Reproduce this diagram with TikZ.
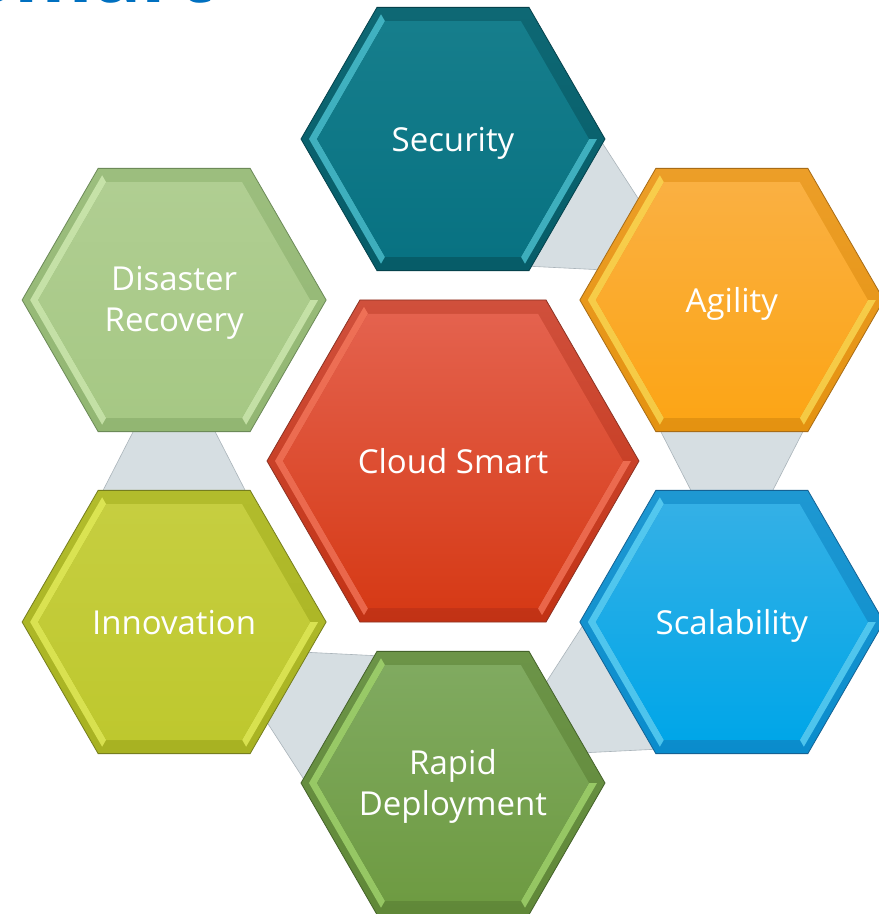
\documentclass[tikz,border=0pt]{standalone}
\usepackage{fontspec}
\setmainfont{Open Sans}
\usetikzlibrary{calc}

\definecolor{titleblue}{RGB}{0,112,192}
\definecolor{connfill}{RGB}{214,222,226}
\definecolor{connline}{RGB}{170,180,186}
% centre
\definecolor{cldtop}{RGB}{228,98,78}
\definecolor{cldbot}{RGB}{214,58,22}
\definecolor{cldrimt}{RGB}{208,80,60}
\definecolor{cldrimb}{RGB}{194,50,20}
\definecolor{cldhi}{RGB}{255,130,102}
\definecolor{cldline}{RGB}{140,50,35}
% security
\definecolor{sectop}{RGB}{22,126,140}
\definecolor{secbot}{RGB}{8,114,130}
\definecolor{secrimt}{RGB}{14,104,116}
\definecolor{secrimb}{RGB}{6,92,104}
\definecolor{sechi}{RGB}{92,218,234}
\definecolor{secline}{RGB}{5,66,76}
% agility
\definecolor{agitop}{RGB}{250,176,66}
\definecolor{agibot}{RGB}{252,165,22}
\definecolor{agirimt}{RGB}{236,158,40}
\definecolor{agirimb}{RGB}{228,146,16}
\definecolor{agihi}{RGB}{255,232,96}
\definecolor{agiline}{RGB}{168,108,22}
% scalability
\definecolor{scatop}{RGB}{52,176,230}
\definecolor{scabot}{RGB}{0,166,232}
\definecolor{scarimt}{RGB}{30,152,210}
\definecolor{scarimb}{RGB}{10,140,204}
\definecolor{scahi}{RGB}{112,226,255}
\definecolor{scaline}{RGB}{20,98,148}
% rapid deployment
\definecolor{raptop}{RGB}{128,170,96}
\definecolor{rapbot}{RGB}{110,155,66}
\definecolor{raprimt}{RGB}{108,148,72}
\definecolor{raprimb}{RGB}{96,136,56}
\definecolor{raphi}{RGB}{178,232,122}
\definecolor{rapline}{RGB}{68,98,42}
% innovation
\definecolor{inntop}{RGB}{198,206,64}
\definecolor{innbot}{RGB}{190,200,46}
\definecolor{innrimt}{RGB}{178,188,44}
\definecolor{innrimb}{RGB}{168,178,34}
\definecolor{innhi}{RGB}{242,250,104}
\definecolor{innline}{RGB}{118,126,30}
% disaster recovery
\definecolor{distop}{RGB}{176,206,146}
\definecolor{disbot}{RGB}{166,200,132}
\definecolor{disrimt}{RGB}{156,190,126}
\definecolor{disrimb}{RGB}{146,182,114}
\definecolor{dishi}{RGB}{222,246,192}
\definecolor{disline}{RGB}{108,138,88}

% bevelled hexagon: centre, radius, colour prefix
\newcommand{\hexcell}[3]{%
  \pgfmathsetmacro\hexmid{#2-8}\pgfmathsetmacro\hexin{#2-16}%
  \begin{scope}[shift={(#1)}]
    \shade[top color=#3rimt,bottom color=#3rimb]
      (0:#2)--(60:#2)--(120:#2)--(180:#2)--(240:#2)--(300:#2)--cycle;
    \fill[#3hi,opacity=.65] (120:\hexmid)--(180:\hexmid)--(240:\hexmid)--(240:\hexin)--(180:\hexin)--(120:\hexin)--cycle;
    \fill[#3hi,opacity=.65] (300:\hexmid)--(0:\hexmid)--(0:\hexin)--(300:\hexin)--cycle;
    \shade[top color=#3top,bottom color=#3bot]
      (0:\hexin)--(60:\hexin)--(120:\hexin)--(180:\hexin)--(240:\hexin)--(300:\hexin)--cycle;
    \draw[#3line,line width=.8pt]
      (0:#2)--(60:#2)--(120:#2)--(180:#2)--(240:#2)--(300:#2)--cycle;
  \end{scope}}

\tikzset{
  lbl/.style={text=white,font=\fontsize{33}{41}\selectfont,align=center,inner sep=0pt},
  one/.style={lbl,text height=24pt,text depth=0pt},
  two/.style={lbl,yshift=-3pt},
  conn/.style={fill=connfill,draw=connline,line width=.6pt},
  title/.style={text=titleblue,font=\fontsize{80}{90}\selectfont\bfseries,inner sep=0pt,anchor=base east}
}

\begin{document}
\begin{tikzpicture}[x=1pt,y=1pt]
  \path[use as bounding box] (-453,-453) rectangle (426,461);
  \clip (-453,-453) rectangle (426,461);
  \fill[white] (-453,-453) rectangle (426,461);
  \node[title] (ttl) at (-240,458) {Smart};

  \coordinate (cld) at (0,0);
  \coordinate (sec) at (90:322);
  \coordinate (agi) at (30:322);
  \coordinate (sca) at (-30:322);
  \coordinate (rap) at (-90:322);
  \coordinate (inn) at (-150:322);
  \coordinate (dis) at (150:322);

  % links, wide end at the first cell
  \foreach \s/\t in {sec/agi,agi/sca,sca/rap,rap/inn,inn/dis}
    \draw[conn] ($(\s)!122pt!(\t)!76pt!90:(\t)$) -- ($(\s)!200pt!(\t)!36pt!90:(\t)$)
      -- ($(\s)!200pt!(\t)!36pt!-90:(\t)$) -- ($(\s)!122pt!(\t)!76pt!-90:(\t)$) -- cycle;

  \hexcell{sec}{152}{sec}
  \hexcell{agi}{152}{agi}
  \hexcell{sca}{152}{sca}
  \hexcell{rap}{152}{rap}
  \hexcell{inn}{152}{inn}
  \hexcell{dis}{152}{dis}
  \hexcell{cld}{186}{cld}

  \node[one] (secl) at (sec) {Security};
  \node[one] (agil) at (agi) {Agility};
  \node[one] (scal) at (sca) {Scalability};
  \node[two] (rapl) at (rap) {Rapid\\Deployment};
  \node[one] (innl) at (inn) {Innovation};
  \node[two] (disl) at (dis) {Disaster\\Recovery};
  \node[one] (cldl) at (cld) {Cloud Smart};
\end{tikzpicture}
\end{document}
